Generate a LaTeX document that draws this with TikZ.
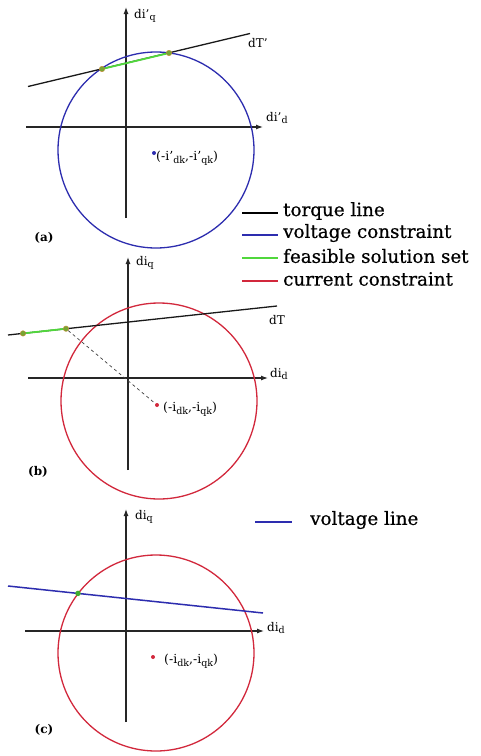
\documentclass[tikz,border=0pt]{standalone}
\usepackage{fontspec}
\setmainfont{DejaVu Serif}
\newfontfamily\legfont[FakeBold=0.6]{DejaVu Serif}
\usetikzlibrary{arrows.meta}
\definecolor{cblue}{RGB}{45,45,175}
\definecolor{cred}{RGB}{210,40,60}
\definecolor{cgreen}{RGB}{80,215,60}
\definecolor{cdot}{RGB}{120,165,50}
\definecolor{cdotrim}{RGB}{200,140,60}
\newcommand{\sbx}[1]{\raisebox{-0.45ex}{\fontsize{9.5}{10}\selectfont #1}}
\tikzset{
  axis/.style={line width=1.2pt, black!85, -{Latex[length=7pt,width=5pt]}},
  axlbl/.style={font=\fontsize{12}{13}\selectfont, anchor=west, inner sep=0pt},
  ptlbl/.style={font=\fontsize{12.5}{13}\selectfont, anchor=west, inner sep=0pt},
  panel/.style={font=\bfseries\fontsize{12}{13}\selectfont, inner sep=0pt},
  legtxt/.style={font=\legfont\fontsize{18.3}{19}\selectfont, anchor=west, inner sep=0pt},
  gdot/.style={circle, fill=cdot, draw=cdotrim, line width=0.4pt, inner sep=0pt, minimum size=5.5pt},
  cdotred/.style={circle, fill=cred, inner sep=0pt, minimum size=4pt},
  cdotblue/.style={circle, fill=cblue, inner sep=0pt, minimum size=4pt},
}
\begin{document}
\begin{tikzpicture}[x=1pt,y=-1pt]
\useasboundingbox (0,0) rectangle (481,756);
\fill[white] (0,0) rectangle (481,756);

% ---------- panel (a) ----------
\coordinate (ax0) at (26,127);
\coordinate (ax1) at (263,127);
\coordinate (ay0) at (126,218);
\coordinate (ay1) at (126,7);
\draw[axis] (ax0) -- (ax1);
\draw[axis] (ay0) -- (ay1);
\node[axlbl] (aly) at (134,16) {di’\sbx{q}};
\node[axlbl] (alx) at (266,118) {di’\sbx{d}};
\draw[cblue, line width=1.3pt] (156,150) circle (98);
\coordinate (at0) at (28,86.5);
\coordinate (at1) at (250,33.5);
\draw[black!90, line width=1.3pt] (at0) -- (at1);
\node[axlbl] (adt) at (248,43) {dT’};
\node[gdot] (ag1) at (102,69) {};
\node[gdot] (ag2) at (169,53) {};
\draw[cgreen, line width=1.8pt] (ag1) -- (ag2);
\node[cdotblue] (ac) at (154,153) {};
\node[ptlbl] (acl) at (156,158) {(-i’\sbx{dk},-i’\sbx{qk})};
\node[panel] (pa) at (44,238) {(a)};

% ---------- legend ----------
\coordinate (l1a) at (242,213); \coordinate (l1b) at (278,213);
\coordinate (l2a) at (242,235); \coordinate (l2b) at (278,235);
\coordinate (l3a) at (242,258); \coordinate (l3b) at (278,258);
\coordinate (l4a) at (242,281); \coordinate (l4b) at (278,281);
\draw[black, line width=1.3pt] (l1a) -- (l1b);
\draw[cblue, line width=1.3pt] (l2a) -- (l2b);
\draw[cgreen, line width=1.5pt] (l3a) -- (l3b);
\draw[cred, line width=1.3pt] (l4a) -- (l4b);
\node[legtxt] (t1) at (283,211) {torque line};
\node[legtxt] (t2) at (283,233) {voltage constraint};
\node[legtxt] (t3) at (283,256) {feasible solution set};
\node[legtxt] (t4) at (283,279) {current constraint};

% ---------- panel (b) ----------
\coordinate (bx0) at (28,378);
\coordinate (bx1) at (268,378);
\coordinate (by0) at (128,470);
\coordinate (by1) at (128,257);
\draw[axis] (bx0) -- (bx1);
\draw[axis] (by0) -- (by1);
\node[axlbl] (bly) at (136,263) {di\sbx{q}};
\node[axlbl] (blx) at (270,374) {di\sbx{d}};
\draw[cred, line width=1.3pt] (159,401) circle (98);
\coordinate (bt0) at (8,335);
\coordinate (bt1) at (277,306);
\draw[black!90, line width=1.3pt] (bt0) -- (bt1);
\node[axlbl] (bdt) at (269,320) {dT};
\node[gdot] (bg1) at (23,333.4) {};
\node[gdot] (bg2) at (66,328.7) {};
\draw[cgreen, line width=1.8pt] (bg1) -- (bg2);
\node[cdotred] (bc) at (157,405) {};
\draw[black!75, dashed, line width=0.7pt] (bg2) -- (bc);
\node[ptlbl] (bcl) at (163,409) {(-i\sbx{dk},-i\sbx{qk})};
\node[panel] (pb) at (38,472) {(b)};

% ---------- panel (c) ----------
\coordinate (vl0) at (255,522); \coordinate (vl1) at (292,522);
\draw[cblue, line width=1.3pt] (vl0) -- (vl1);
\node[legtxt] (t5) at (310,520) {voltage line};
\coordinate (cx0) at (25,631);
\coordinate (cx1) at (264,631);
\coordinate (cy0) at (126,722);
\coordinate (cy1) at (126,509);
\draw[axis] (cx0) -- (cx1);
\draw[axis] (cy0) -- (cy1);
\node[axlbl] (cly) at (135,517) {di\sbx{q}};
\node[axlbl] (clx) at (267,628) {di\sbx{d}};
\draw[cred, line width=1.3pt] (156,653) circle (98);
\coordinate (cv0) at (8,586);
\coordinate (cv1) at (263,613);
\draw[cblue, line width=1.5pt] (cv0) -- (cv1);
\node[gdot, fill=cgreen!80!black, draw=none] (cg) at (78,593.4) {};
\node[cdotred] (cc) at (153,657) {};
\node[ptlbl] (ccl) at (164,661) {(-i\sbx{dk},-i\sbx{qk})};
\node[panel] (pc) at (44,730) {(c)};
\end{tikzpicture}
\end{document}
